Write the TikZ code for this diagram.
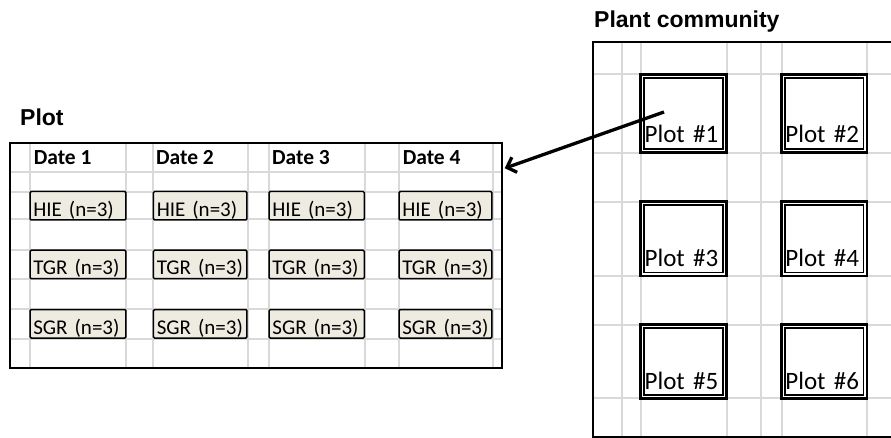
\documentclass[tikz,border=0pt]{standalone}
\usepackage{fontspec}
\setmainfont{Carlito}
\newfontfamily\headfont{Liberation Sans}
\usetikzlibrary{arrows.meta}
\definecolor{gridgray}{RGB}{217,217,217}
\definecolor{boxtan}{RGB}{238,236,225}
\tikzset{grd/.style={draw=gridgray, line width=1.4pt},
grp/.style={draw, line width=1.5pt, fill=boxtan, rounded corners=1.2pt, inner xsep=3.3pt, inner ysep=0pt, outer sep=0pt, align=left, font=\fontsize{21}{21}\selectfont, text height=24.7pt, text depth=3.8pt},
plt/.style={draw, line width=2.7pt, fill=white, inner xsep=4pt, inner ysep=0pt, outer sep=0pt, align=left, text width=77.7pt, font=\fontsize{25}{25}\selectfont, text depth=9.7pt},
ttl/.style={anchor=base west, inner sep=0pt, font=\headfont\bfseries\fontsize{23}{23}\selectfont},
hdr/.style={anchor=base west, inner sep=0pt, font=\bfseries\fontsize{21.5}{21.5}\selectfont},
arw/.style={line width=3.3pt, -{Straight Barb[length=8pt,width=16pt]}, shorten >=2pt}}

\begin{document}
\begin{tikzpicture}[x=1pt,y=-1pt]
\useasboundingbox (0,0) rectangle (891,438);
% plot with the sampling dates
\draw[grd]
\foreach \x in {30,126,153,248,269,365,399,493}{(\x,142.8)--(\x,368)}
\foreach \y in {172,192,219,250,279,309,339}{(9.7,\y)--(501.7,\y)}
;
\node[draw, line width=2.3pt, minimum width=492pt, minimum height=225.2pt, inner sep=0pt] (plot) at (255.7,255.4) {};
\node[ttl] (plottitle) at (20,126) {Plot};
\foreach \c/\x in {1/33.6,2/155.9,3/271.9,4/402.6}{
\node[hdr] (date\c) at (\x,165) {Date \c};
}
\foreach \c/\x/\w in {1/78/97.4,2/200.2/95,3/316.7/96.7,4/445.5/94.4}{
\pgfmathsetmacro\tw{\w-8.1}
\foreach \g/\y in {HIE/205.7,TGR/264.5,SGR/323.8}{
\node[grp, text width=\tw pt] (\g\c) at (\x,\y) {\mbox{\g{} (n=3)}};
}
}
% plant community
\draw[grd]
\foreach \x in {622,641,727,761,782,867}{(\x,41.7)--(\x,436.7)}
\foreach \y in {74,153,202,276,325,398}{(593.3,\y)--(891,\y)}
;
\draw[line width=2pt] (892,41.7) -| (593.3,436.7) -- (892,436.7);
\node[ttl] (commtitle) at (594,28) {Plant community};
\foreach \n/\x/\y/\h in {1/683.5/113.7/80.7,2/824.2/113.7/80.7,3/683.5/238.7/77.3,4/824.2/238.7/77.3,5/683.5/361.7/76.7,6/824.2/361.7/76.7}{
\pgfmathsetmacro\th{\h-12.4}
\node[plt, text height=\th pt] (p\n) at (\x,\y) {Plot \#\n};
\draw[line width=1.6pt] ([shift={(3.5pt,-3.5pt)}]p\n.north west) rectangle ([shift={(-3.5pt,3.5pt)}]p\n.south east);
}
\coordinate (ptr) at (664,112);
\draw[arw] (ptr) -- (plot);
\end{tikzpicture}
\end{document}
